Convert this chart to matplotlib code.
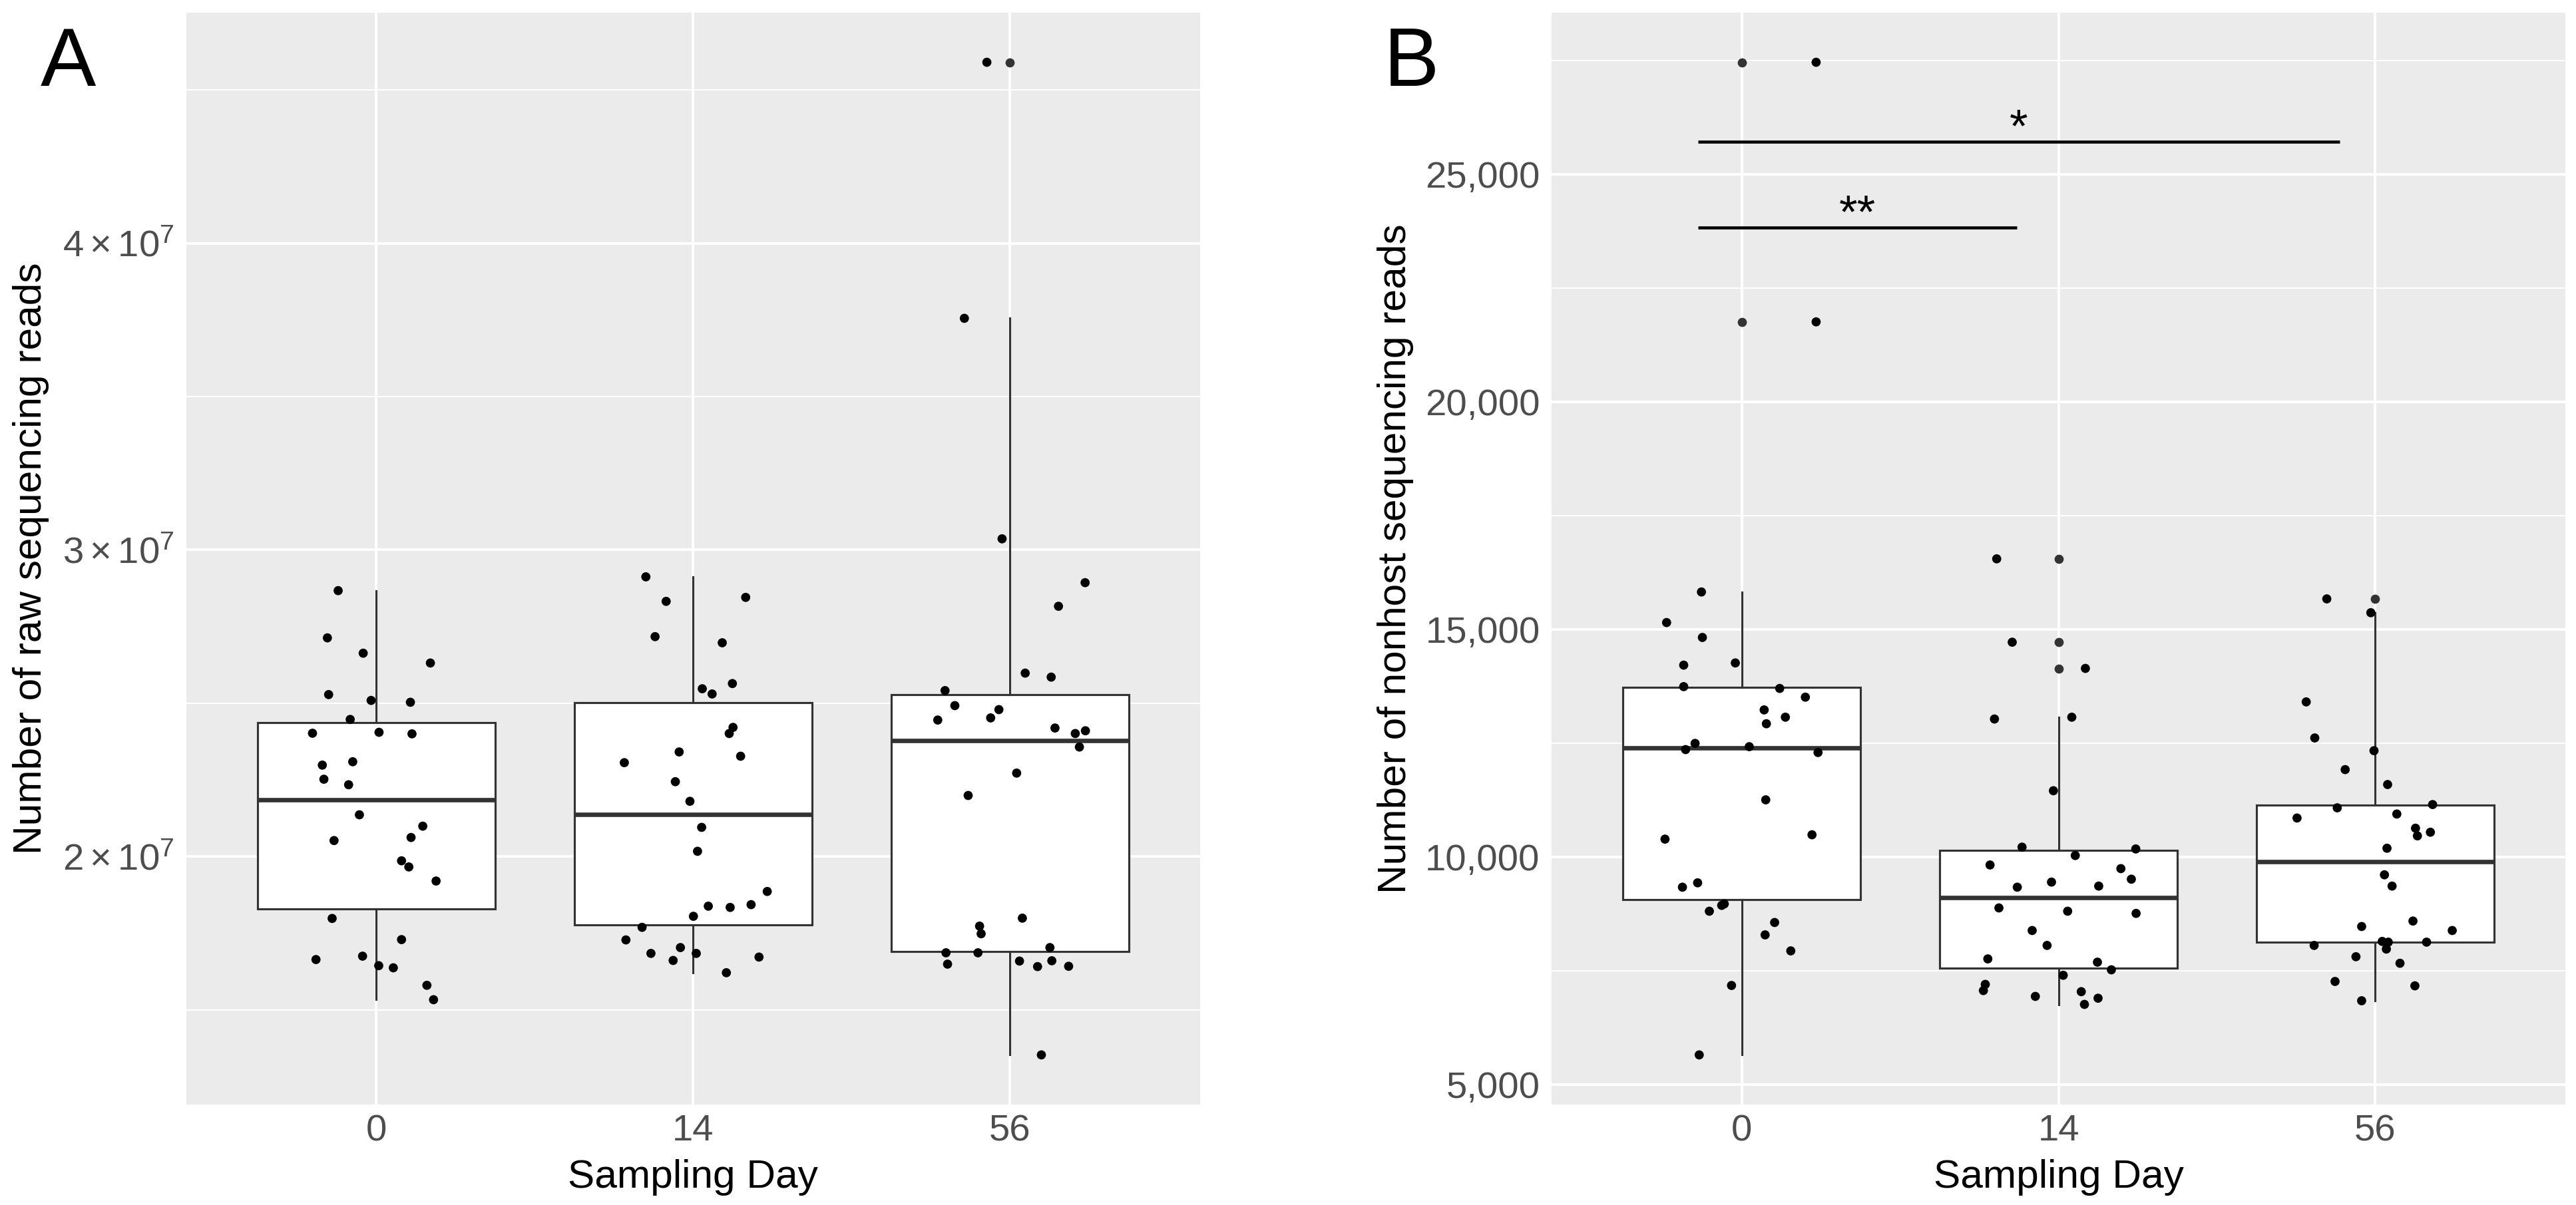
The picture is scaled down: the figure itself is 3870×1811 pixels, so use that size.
import numpy as np
import matplotlib
matplotlib.use("Agg")
import matplotlib.pyplot as plt
from matplotlib.ticker import FixedLocator, FuncFormatter

plt.rcParams['font.family'] = ['Liberation Sans', 'DejaVu Sans']
plt.rcParams['mathtext.fontset'] = 'custom'
plt.rcParams['mathtext.rm'] = 'Liberation Sans'
plt.rcParams['mathtext.it'] = 'Liberation Sans:italic'
plt.rcParams['mathtext.bf'] = 'Liberation Sans:bold'

# ---------------- data ----------------
days = ["0", "14", "56"]

# Panel A: raw sequencing reads (millions) and horizontal jitter
raw_d0 = [28.67, 27.13, 26.63, 26.31, 25.28, 25.09, 25.03, 24.47, 24.05, 24.02,
          24.00, 23.09, 22.98, 22.52, 22.34, 21.36, 20.99, 20.62, 20.52, 19.86,
          19.66, 19.20, 17.98, 17.29, 16.64, 16.75, 16.44, 16.37, 15.80, 15.33]
raw_d0_jit = [-0.120, -0.154, -0.041, 0.171, -0.150, -0.016, 0.108, -0.082, 0.009, -0.201,
              0.113, -0.074, -0.170, -0.165, -0.087, -0.053, 0.147, 0.110, -0.133, 0.080,
              0.103, 0.189, -0.139, 0.080, -0.190, -0.043, 0.008, 0.054, 0.160, 0.181]
raw_d14 = [29.12, 28.32, 28.45, 27.17, 26.97, 25.64, 25.47, 25.30, 24.21, 24.01,
           23.41, 23.27, 23.06, 22.44, 21.80, 20.95, 20.17, 18.86, 18.38, 18.34,
           18.43, 18.05, 17.69, 17.28, 17.03, 16.84, 16.84, 16.61, 16.72, 16.21]
raw_d14_jit = [-0.149, -0.085, 0.166, -0.120, 0.092, 0.124, 0.029, 0.060, 0.126, 0.114,
               -0.044, 0.150, -0.217, -0.056, -0.010, 0.027, 0.014, 0.234, 0.048, 0.117,
               0.183, 0.001, -0.161, -0.212, -0.040, -0.133, 0.010, -0.063, 0.208, 0.105]
raw_d56 = [45.90, 37.55, 30.36, 28.93, 28.16, 25.98, 25.85, 25.41, 24.92, 24.79,
           24.45, 24.52, 24.19, 24.01, 24.10, 23.57, 22.72, 21.99, 17.99, 17.73,
           17.48, 16.86, 16.86, 17.03, 16.49, 16.59, 16.60, 16.41, 16.42, 13.53]
raw_d56_jit = [-0.073, -0.144, -0.025, 0.237, 0.153, 0.048, 0.130, -0.205, -0.174, -0.035,
               -0.228, -0.061, 0.142, 0.206, 0.238, 0.219, 0.021, -0.132, 0.039, -0.096,
               -0.091, -0.202, -0.101, 0.126, -0.197, 0.030, 0.132, 0.087, 0.185, 0.099]
raw_unit = 1e6

# Panel B: nonhost sequencing reads
nh_d0 = [27465, 21760, 15824, 15152, 14824, 14216, 14264, 13744, 13704, 13512,
         13232, 13072, 12928, 12496, 12360, 12424, 12296, 11256, 10392, 10488,
         9432, 9336, 8968, 8936, 8808, 8560, 8288, 7936, 7176, 5650]
nh_d0_jit = [0.235, 0.235, -0.127, -0.237, -0.124, -0.183, -0.020, -0.183, 0.120, 0.201,
             0.071, 0.138, 0.078, -0.147, -0.177, 0.024, 0.241, 0.076, -0.242, 0.222,
             -0.139, -0.187, -0.055, -0.063, -0.102, 0.104, 0.074, 0.155, -0.032, -0.134]
nh_d14 = [16552, 14720, 14144, 13032, 13072, 11456, 10216, 10176, 10032, 9824,
          9744, 9512, 9448, 9336, 9360, 8880, 8808, 8760, 8384, 8056,
          7760, 7688, 7520, 7400, 7200, 7064, 6936, 7040, 6896, 6760]
nh_d14_jit = [-0.195, -0.146, 0.085, -0.202, 0.042, -0.016, -0.115, 0.244, 0.053, -0.216,
              0.197, 0.230, -0.022, -0.130, 0.127, -0.188, 0.029, 0.245, -0.083, -0.036,
              -0.223, 0.123, 0.167, 0.015, -0.231, -0.237, -0.073, 0.072, 0.125, 0.082]
nh_d56 = [15672, 15368, 13408, 12616, 12336, 11920, 11592, 11152, 11080, 10856,
          10944, 10632, 10464, 10544, 10192, 9608, 9360, 8592, 8472, 8384,
          8144, 8128, 7976, 8128, 8056, 7808, 7664, 7264, 7168, 6840]
nh_d56_jit = [-0.153, -0.014, -0.218, -0.191, -0.004, -0.095, 0.039, 0.181, -0.120, -0.247,
              0.068, 0.127, 0.133, 0.174, 0.037, 0.029, 0.053, 0.119, -0.043, 0.243,
              0.022, 0.041, 0.035, 0.162, -0.193, -0.061, 0.078, -0.127, 0.125, -0.043]

# significance brackets (x start, x end in category coordinates, y, label)
sig_xmin = [-0.137, -0.137]
sig_xmax = [0.869, 1.887]
sig_y = [23834, 25722]
sig_label = ["**", "*"]

raw_major = [2e7, 3e7, 4e7]
raw_minor = [1.5e7, 2.5e7, 3.5e7, 4.5e7]
nh_major = [5000, 10000, 15000, 20000, 25000]
nh_minor = [7500, 12500, 17500, 22500, 27500]

# ---------------- style ----------------
W, H = 3870, 1811
DPI = 300
fig = plt.figure(figsize=(W / DPI, H / DPI), dpi=DPI)
fig.patch.set_facecolor("white")

panel_bg = "#EBEBEB"
box_col = "#333333"
tick_col = "#4D4D4D"
pt_size = 3.3

axA = fig.add_axes([279.5 / W, 1 - 1660 / H, (1803 - 279.5) / W, (1660 - 19) / H])
axB = fig.add_axes([2331 / W, 1 - 1660 / H, (3854 - 2331) / W, (1660 - 19) / H])


def draw_panel(ax, groups, jits, major, minor, fmt, ylabel):
    ax.set_facecolor(panel_bg)
    for s in ax.spines.values():
        s.set_visible(False)
    pos = np.arange(len(groups))
    ax.boxplot([np.asarray(g) for g in groups], positions=pos, widths=0.75,
               patch_artist=True, whis=1.5, showcaps=False,
               boxprops=dict(facecolor="white", edgecolor=box_col, linewidth=0.75),
               medianprops=dict(color=box_col, linewidth=1.6),
               whiskerprops=dict(color=box_col, linewidth=0.75),
               flierprops=dict(marker="o", markerfacecolor=box_col,
                               markeredgecolor="none", markersize=pt_size),
               zorder=2)
    for i, (g, j) in enumerate(zip(groups, jits)):
        ax.scatter(i + np.asarray(j), g, s=pt_size ** 2, color="black",
                   edgecolors="none", zorder=3)
    allv = np.concatenate([np.asarray(g) for g in groups])
    lo, hi = allv.min(), allv.max()
    rng = hi - lo
    ax.set_ylim(lo - 0.05 * rng, hi + 0.05 * rng)
    ax.set_xlim(-0.6, len(groups) - 0.4)
    ax.set_xticks(pos)
    ax.set_xticklabels(days)
    ax.yaxis.set_major_locator(FixedLocator(major))
    ax.yaxis.set_minor_locator(FixedLocator(minor))
    ax.yaxis.set_major_formatter(FuncFormatter(fmt))
    ax.grid(which="major", color="white", linewidth=0.95, zorder=0)
    ax.grid(which="minor", axis="y", color="white", linewidth=0.5, zorder=0)
    ax.set_axisbelow(True)
    ax.tick_params(which="both", length=0)
    ax.tick_params(axis="y", pad=4.2, labelsize=13.5, labelcolor=tick_col)
    ax.tick_params(axis="x", pad=3.4, labelsize=13.5, labelcolor=tick_col)
    ax.set_xlabel("Sampling Day", fontsize=14.5, color="black")
    ax.xaxis.label.set_verticalalignment("baseline")
    ax.xaxis.set_label_coords(0.5, (1660 - 1785) / (1660 - 19))
    ax.set_ylabel(ylabel, fontsize=14.5, color="black")
    ax.yaxis.label.set_verticalalignment("center")


def fmt_raw(v, p):
    m = int(round(v / 1e7))
    return r"$%d\times10^{7}$" % m


def fmt_nh(v, p):
    return "{:,.0f}".format(v)


rawA = [np.asarray(g) * raw_unit for g in (raw_d0, raw_d14, raw_d56)]
draw_panel(axA, rawA, [raw_d0_jit, raw_d14_jit, raw_d56_jit], raw_major, raw_minor,
           fmt_raw, "Number of raw sequencing reads")
axA.yaxis.set_label_coords((47 - 279.5) / (1803 - 279.5), 0.5)

draw_panel(axB, [nh_d0, nh_d14, nh_d56], [nh_d0_jit, nh_d14_jit, nh_d56_jit],
           nh_major, nh_minor, fmt_nh, "Number of nonhost sequencing reads")
axB.yaxis.set_label_coords((2097 - 2331) / (3854 - 2331), 0.5)

for x0, x1, y, lab in zip(sig_xmin, sig_xmax, sig_y, sig_label):
    axB.plot([x0, x1], [y, y], color="black", linewidth=1.1, zorder=4,
             solid_capstyle="butt")
    axB.text((x0 + x1) / 2, y, lab, ha="center", va="baseline", fontsize=17,
             color="black", zorder=4)

fig.text(61 / W, 1 - 129 / H, "A", fontsize=30, ha="left", va="baseline")
fig.text(2079 / W, 1 - 129 / H, "B", fontsize=30, ha="left", va="baseline")

fig.savefig("out.png", dpi=DPI, facecolor="white")
